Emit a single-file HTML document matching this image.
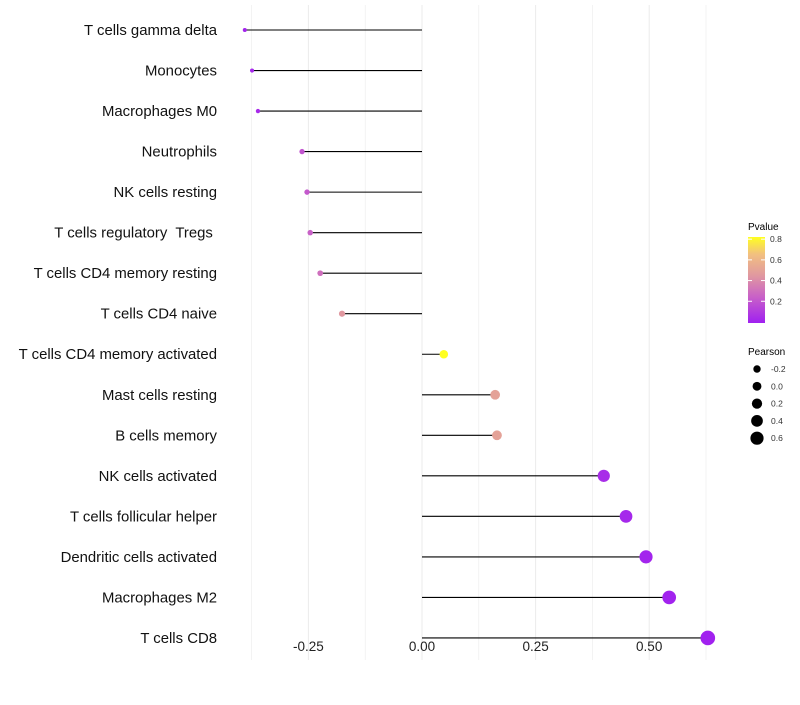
<!DOCTYPE html>
<html><head><meta charset="utf-8"><style>
body{margin:0;background:#fff;font-family:"Liberation Sans",sans-serif}
text{white-space:pre}
</style></head><body>
<svg id="chart" width="800" height="700" xmlns="http://www.w3.org/2000/svg" font-family="Liberation Sans, sans-serif">
<defs><linearGradient id="pg" x1="0" y1="1" x2="0" y2="0">
<stop offset="0" stop-color="#a020f0"/><stop offset="0.3" stop-color="#c860c8"/><stop offset="0.55" stop-color="#e098a0"/><stop offset="0.8" stop-color="#f2c080"/><stop offset="1" stop-color="#ffff20"/></linearGradient></defs>
<g id="grid"></g>
<g id="marks"></g>
<g id="labels"></g>
<g id="xticks"></g>
<g>
<text x="748" y="230" font-size="10" fill="#000">Pvalue</text>
<rect x="748" y="237" width="17" height="86" fill="url(#pg)"/>
<g id="cbticks"></g>
</g>
<g id="sizeleg">
<text x="748" y="355" font-size="10" fill="#000">Pearson</text>
</g>
</svg>
<script>
const cells=["T cells gamma delta","Monocytes","Macrophages M0","Neutrophils","NK cells resting","T cells regulatory  Tregs ","T cells CD4 memory resting","T cells CD4 naive","T cells CD4 memory activated","Mast cells resting","B cells memory","NK cells activated","T cells follicular helper","Dendritic cells activated","Macrophages M2","T cells CD8"];
const pearson=[-0.39,-0.374,-0.361,-0.264,-0.253,-0.246,-0.224,-0.176,0.048,0.161,0.165,0.40,0.449,0.493,0.544,0.629];
const pvalue=[0.02,0.03,0.04,0.2,0.22,0.25,0.3,0.45,0.85,0.5,0.5,0.05,0.03,0.02,0.01,0.005];
const xTicks=[-0.25,0,0.25,0.5];
const xTickLabels=["-0.25","0.00","0.25","0.50"];
const legendP=[0.2,0.4,0.6,0.8];
const legendR=[-0.2,0.0,0.2,0.4,0.6];
const NS="http://www.w3.org/2000/svg";
const X=v=>422+v*454.4;
const Y=i=>30+i*40.53;
const R=v=>2+(v+0.39)*5.2;
function col(p){const t=Math.max(0,Math.min(1,p/0.82));
 const st=[[0,[160,32,240]],[0.3,[200,96,200]],[0.55,[224,152,160]],[0.8,[242,192,128]],[1,[255,255,32]]];
 for(let k=1;k<st.length;k++){if(t<=st[k][0]){const a=st[k-1],b=st[k],f=(t-a[0])/(b[0]-a[0]);
 return "rgb("+a[1].map((c,j)=>Math.round(c+(b[1][j]-c)*f)).join(",")+")";}}return "rgb(255,255,32)";}
function mk(tag,at,parent){const e=document.createElementNS(NS,tag);for(const k in at)e.setAttribute(k,at[k]);parent.appendChild(e);return e;}
const grid=document.getElementById('grid'),marks=document.getElementById('marks'),labels=document.getElementById('labels'),xt=document.getElementById('xticks');
for(let g=-0.375;g<=0.64;g+=0.125){const l=mk('line',{x1:X(g),x2:X(g),y1:5,y2:660,stroke:'#ebebeb','stroke-width':Math.abs((g/0.25)%1)<1e-6?1:0.6},grid);

}
cells.forEach((c,i)=>{
 const s=mk('line',{x1:X(0),x2:X(pearson[i]),y1:Y(i),y2:Y(i),stroke:'#000','stroke-width':1.1},marks);
 
 
 const d=mk('circle',{cx:X(pearson[i]),cy:Y(i),r:R(pearson[i]),fill:col(pvalue[i])},marks);
 
 
 const t=mk('text',{x:217,y:Y(i)+5,'text-anchor':'end','font-size':14.9,fill:'#111'},labels);t.textContent=c;
 
 
});
xTicks.forEach((v,i)=>{const t=mk('text',{x:X(v),y:651,'text-anchor':'middle','font-size':13.5,fill:'#222'},xt);t.textContent=xTickLabels[i];
 
 });
const cb=document.getElementById('cbticks');
legendP.forEach(p=>{const y=323-(p+0.01)*103.5;
 mk('line',{x1:748,x2:752,y1:y,y2:y,stroke:'#fff'},cb);mk('line',{x1:761,x2:765,y1:y,y2:y,stroke:'#fff'},cb);
 const t=mk('text',{x:770,y:y+3,'font-size':8.5,fill:'#333'},cb);t.textContent=p.toFixed(1);
 
 });
const sl=document.getElementById('sizeleg');
legendR.forEach((v,i)=>{const y=369+i*17.3;
 const c=mk('circle',{cx:757,cy:y,r:3.7+(v+0.2)*3.6,fill:'#000'},sl);
 
 
 const t=mk('text',{x:771,y:y+3,'font-size':8.5,fill:'#333'},sl);t.textContent=v.toFixed(1);
 
 });
</script>
</body></html>
